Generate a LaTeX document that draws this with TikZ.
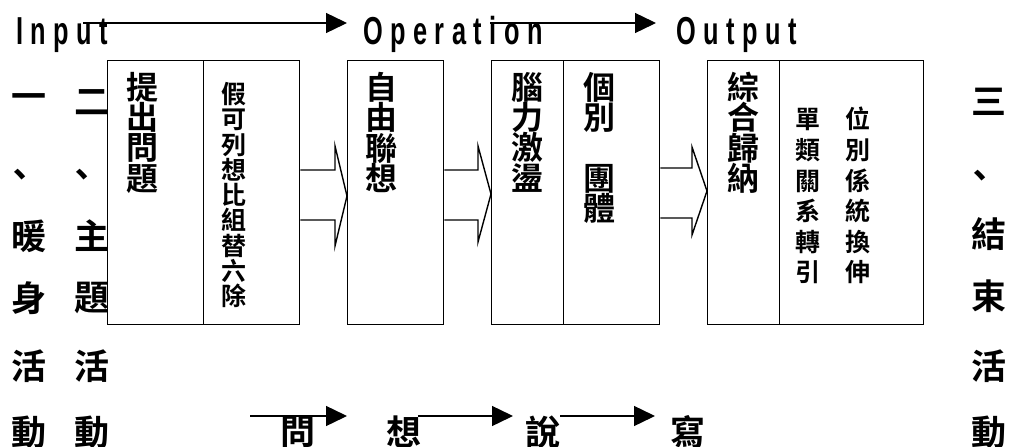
\documentclass[tikz,border=0pt]{standalone}
\usepackage{fontspec}
\newfontfamily\cjk{Noto Sans CJK TC Bold}
\newfontfamily\latf[FakeStretch=0.65]{Liberation Sans Bold}
\usetikzlibrary{arrows.meta,calc}
\newlength\lsp
\setlength\lsp{7.5pt}
\def\spaced#1{\spacedi#1\relax}
\def\spacedi#1{\ifx#1\relax\else#1\kern\lsp\expandafter\spacedi\fi}
\begin{document}
\begin{tikzpicture}[x=1pt,y=-1pt,
  box/.style={draw,line width=1.4pt,fill=white,minimum width=#1,minimum height=264pt,inner sep=0,anchor=north west},
  big/.style={font={\cjk\fontsize{32}{30.3}\selectfont},align=center,inner sep=0,anchor=north},
  small/.style={font={\cjk\fontsize{25}{25.3}\selectfont},align=center,inner sep=0,anchor=north},
  pair/.style={font={\cjk\fontsize{25}{30.6}\selectfont},align=center,inner sep=0,anchor=north},
  outer/.style={font={\cjk\fontsize{35}{35}\selectfont},inner sep=0,anchor=center},
  lat/.style={font={\latf\fontsize{39}{39}\selectfont},inner sep=0,anchor=base west},
  arr/.style={line width=1.4pt,-{Triangle[length=21pt,width=20pt]}},
  blk/.style={line width=1.4pt,line join=miter}]
\useasboundingbox (0,0) rectangle (1013,447);

% outer columns
\foreach \ch/\yy [count=\i] in {一/102,暖/236,身/298,活/366,動/432}
  \node[outer] (l\i) at (29,\yy) {\ch};
\node[outer] (lc) at (20,178) {、};
\foreach \ch/\yy [count=\i] in {二/102,主/236,題/298,活/366,動/432}
  \node[outer] (m\i) at (92,\yy) {\ch};
\node[outer] (mc) at (82,178) {、};
\foreach \ch/\yy [count=\i] in {三/102,結/234,束/296,活/366,動/432}
  \node[outer] (r\i) at (989,\yy) {\ch};
\node[outer] (rc) at (980,179) {、};

% boxes
\node[box=96pt] (b1a) at (107,60) {};
\node[box=96pt] (b1b) at (203,60) {};
\node[box=96pt] (b2) at (347,60) {};
\node[box=72pt] (b3a) at (491,60) {};
\node[box=96pt] (b3b) at (563,60) {};
\node[box=72pt] (b4a) at (707,60) {};
\node[box=144pt] (b4b) at (779,60) {};

% box texts
\node[big] (t1a) at (142,72) {提\\出\\問\\題};
\node[small] (t1b) at (234,82) {假\\可\\列\\想\\比\\組\\替\\六\\除};
\node[big] (t2) at (381,72) {自\\由\\聯\\想};
\node[big] (t3a) at (527,72) {腦\\力\\激\\盪};
\node[big] (t3b) at (599,72) {個\\別\\\mbox{}\\團\\體};
\node[big] (t4a) at (743,72) {綜\\合\\歸\\納};
\node[pair] (t4b) at (833,107) {單　位\\類　別\\關　係\\系　統\\轉　換\\引　伸};

% block arrows
\draw[blk] ($(b1b.north east)+(0,110)$) -- ($(b2.north west)+(-12,110)$) -- ($(b2.north west)+(-12,86)$)
  -- ($(b2.north west)+(0,136)$) -- ($(b2.north west)+(-12,186)$) -- ($(b2.north west)+(-12,160)$)
  -- ($(b1b.north east)+(0,160)$);
\draw[blk] ($(b2.north east)+(0,110)$) -- ($(b3a.north west)+(-13,110)$) -- ($(b3a.north west)+(-13,86)$)
  -- ($(b3a.north west)+(0,134)$) -- ($(b3a.north west)+(-13,182)$) -- ($(b3a.north west)+(-13,160)$)
  -- ($(b2.north east)+(0,160)$);
\draw[blk] ($(b3b.north east)+(0,108)$) -- ($(b4a.north west)+(-15,108)$) -- ($(b4a.north west)+(-15,87)$)
  -- ($(b4a.north west)+(0,131)$) -- ($(b4a.north west)+(-15,175)$) -- ($(b4a.north west)+(-15,158)$)
  -- ($(b3b.north east)+(0,158)$);

% top labels
\node[lat] (in) at (16,45) {\spaced{Input}};
\node[lat] (op) at (363,45) {\spaced{Operation}};
\node[lat] (out) at (676,45) {\spaced{Output}};
\coordinate (a1s) at (83,23);
\coordinate (a1e) at (347,23);
\coordinate (a2s) at (490,23);
\coordinate (a2e) at (656,23);
\draw[arr] (a1s) -- (a1e);
\draw[arr] (a2s) -- (a2e);

% bottom row
\node[outer] (w1) at (298,432) {問};
\node[outer] (w2) at (404,432) {想};
\node[outer] (w3) at (543,432) {說};
\node[outer] (w4) at (688,432) {寫};
\coordinate (c1s) at (250,416);
\coordinate (c1e) at (347,416);
\coordinate (c2s) at (418,416);
\coordinate (c2e) at (513,416);
\coordinate (c3s) at (560,416);
\coordinate (c3e) at (655,416);
\draw[arr] (c1s) -- (c1e);
\draw[arr] (c2s) -- (c2e);
\draw[arr] (c3s) -- (c3e);
\end{tikzpicture}
\end{document}
